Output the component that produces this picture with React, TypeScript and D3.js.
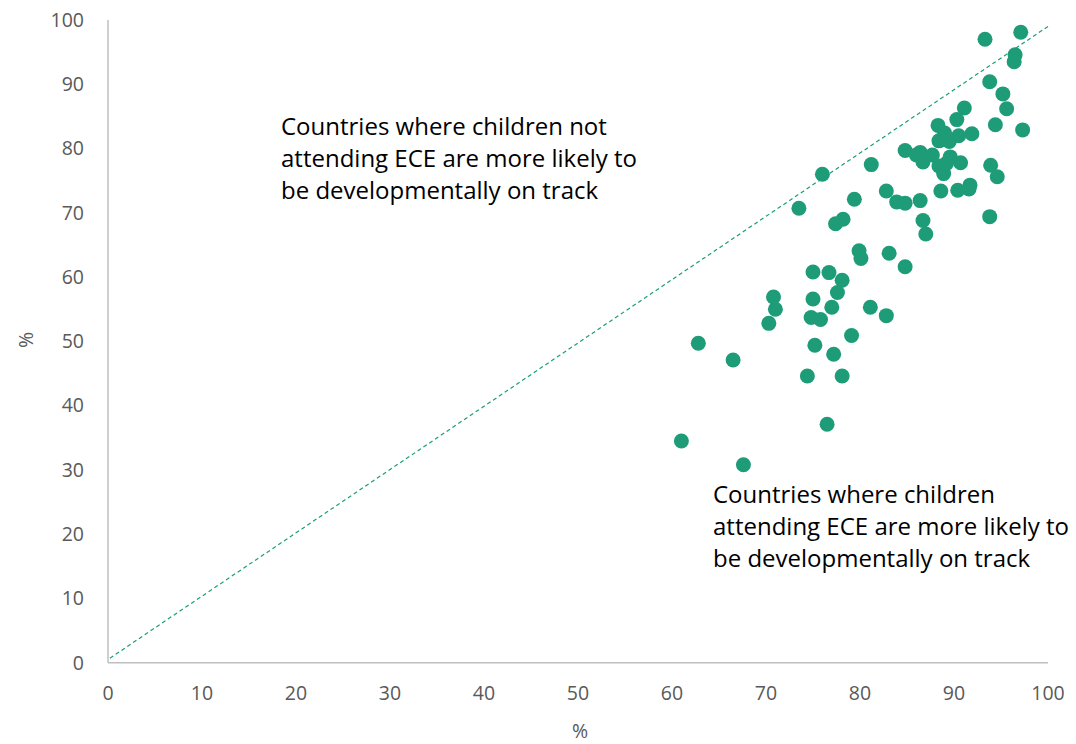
import React from "react";
import * as d3 from "d3";

const xValues = [93.3, 97.1, 96.5, 96.4, 93.8, 95.2, 95.6, 91.1, 90.3, 94.4, 97.3, 88.3, 89.0, 88.4, 89.5, 90.5, 91.9, 84.8, 86.4, 86.0, 87.7, 86.7, 89.6, 88.4, 88.9, 90.7, 89.2, 81.2, 76.0, 93.9, 94.6, 79.4, 73.5, 82.8, 83.9, 84.8, 86.4, 88.6, 90.4, 91.7, 91.6, 93.8, 78.2, 77.4, 86.7, 87.0, 79.9, 80.1, 83.1, 84.8, 75.0, 76.7, 78.1, 77.6, 70.8, 71.0, 75.0, 77.0, 81.1, 82.8, 74.8, 75.8, 70.3, 79.1, 75.2, 62.8, 66.5, 77.2, 74.4, 78.1, 76.5, 61.0, 67.6];
const yValues = [97.0, 98.1, 94.6, 93.5, 90.4, 88.5, 86.2, 86.3, 84.5, 83.7, 82.9, 83.6, 82.4, 81.2, 81.1, 82.0, 82.3, 79.7, 79.4, 79.0, 79.0, 77.9, 78.7, 77.3, 76.1, 77.8, 77.7, 77.5, 76.0, 77.4, 75.6, 72.1, 70.7, 73.4, 71.7, 71.5, 71.9, 73.4, 73.5, 74.3, 73.7, 69.4, 69.0, 68.3, 68.8, 66.7, 64.1, 62.9, 63.7, 61.6, 60.8, 60.7, 59.5, 57.6, 56.9, 55.0, 56.6, 55.3, 55.3, 54.0, 53.7, 53.4, 52.8, 50.9, 49.4, 49.7, 47.1, 48.0, 44.6, 44.6, 37.1, 34.5, 30.8];
const ticks = [0, 10, 20, 30, 40, 50, 60, 70, 80, 90, 100];
const diagonal: [number, number][] = [[0.2, 0.7], [100, 99]];
const annotationTop = [
  "Countries where children not",
  "attending ECE are more likely to",
  "be developmentally on track",
];
const annotationBottom = [
  "Countries where children",
  "attending ECE are more likely to",
  "be developmentally on track",
];

export default function App() {
  const W = 1076, H = 744;
  const x = d3.scaleLinear().domain([0, 100]).range([108, 1048]);
  const y = d3.scaleLinear().domain([0, 100]).range([662.7, 20]);
  const line = d3.line<[number, number]>().x(d => x(d[0])).y(d => y(d[1]));
  const font = "'Open Sans', sans-serif";
  const tickColor = "#595959";
  return (
    <svg width={W} height={H} style={{ position: "absolute", left: 0, top: 0, background: "#fff" }}>
      <line x1={x(0)} x2={x(100)} y1={y(0)} y2={y(0)} stroke="#bfbfbf" strokeWidth={1.5} />
      <line x1={x(0)} x2={x(0)} y1={y(0)} y2={y(100)} stroke="#bfbfbf" strokeWidth={1.5} />
      {ticks.map(t => (
        <text key={"y" + t} x={84} y={y(t)} dy="0.35em" textAnchor="end" fontFamily={font} fontSize={19.5} fill={tickColor}>{t}</text>
      ))}
      {ticks.map(t => (
        <text key={"x" + t} x={x(t)} y={693} dy="0.35em" textAnchor="middle" fontFamily={font} fontSize={19.5} fill={tickColor}>{t}</text>
      ))}
      <text x={580} y={731} dy="0.35em" textAnchor="middle" fontFamily={font} fontSize={19.5} fill={tickColor}>%</text>
      <text transform="translate(26,340) rotate(-90)" dy="0.35em" textAnchor="middle" fontFamily={font} fontSize={19.5} fill={tickColor}>%</text>
      <path d={line(diagonal) || ""} fill="none" stroke="#1b9e77" strokeWidth={1.2} strokeDasharray="4,3" />
      {xValues.map((v, i) => (
        <circle key={i} cx={x(v)} cy={y(yValues[i])} r={7.5} fill="#1e9c78" />
      ))}
      {annotationTop.map((s, i) => (
        <text key={"a" + i} x={281} y={127 + i * 32} dy="0.35em" fontFamily={font} fontSize={24} fill="#000">{s}</text>
      ))}
      {annotationBottom.map((s, i) => (
        <text key={"b" + i} x={713} y={495 + i * 32} dy="0.35em" fontFamily={font} fontSize={24} fill="#000">{s}</text>
      ))}
    </svg>
  );
}
